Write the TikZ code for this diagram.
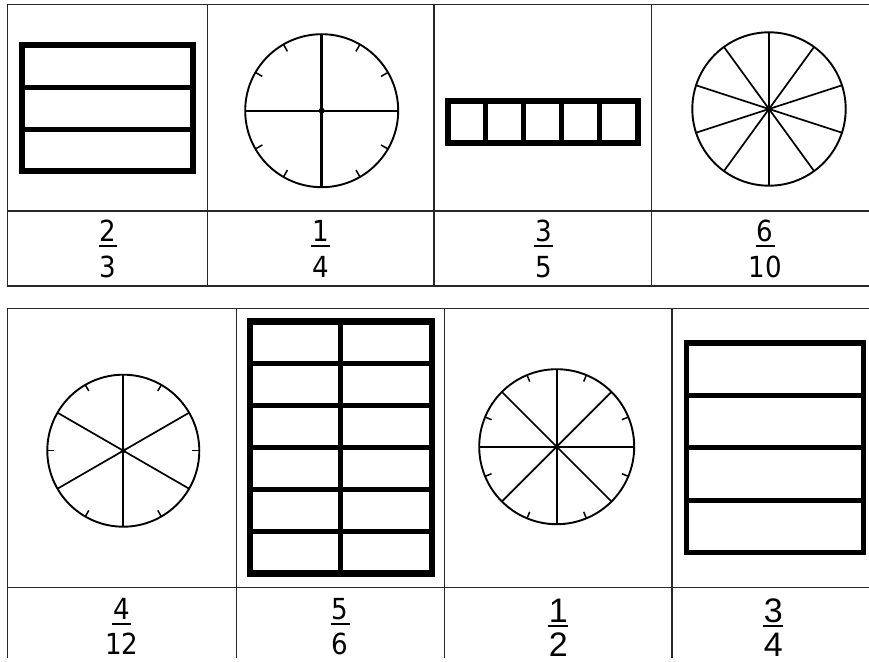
\documentclass[tikz,border=0pt]{standalone}
\usepackage{fontspec}
\newfontfamily\tah{DejaVu Sans Condensed}
\newfontfamily\ari{Liberation Sans}
\begin{document}
\begin{tikzpicture}[x=1pt,y=-1pt,
  grid/.style={line width=1.4pt, draw=black!85},
  frame/.style={line width=6pt, line join=miter},
  divider/.style={line width=5pt},
  rim/.style={line width=1.9pt},
  spoke/.style={line width=1.7pt},
  tickmark/.style={line width=1.5pt},
  digits/.style={inner sep=0pt, anchor=base, text depth=0pt, font=\tah\fontsize{29}{29}\selectfont},
  adigits/.style={inner sep=0pt, anchor=base, text depth=0pt, font=\ari\fontsize{34}{34}\selectfont},
  fbar/.style={line width=2pt}]

\useasboundingbox (0,0) rectangle (869,661);
\fill[white] (0,0) rectangle (869,661);

% ---------- top table ----------
\draw[grid] (869,4.5) -- (7.5,4.5) -- (7.5,286) -- (869,286);
\draw[grid] (7.5,211) -- (869,211);
\foreach \x in {207.7,434,651.7} \draw[grid] (\x,4.5) -- (\x,286);

% 2/3 rectangle
\draw[frame] (22.3,45.3) rectangle (193,171);
\foreach \y in {87.3,129.2} \draw[divider] (22.3,\y) -- (193,\y);

% 1/4 circle
\begin{scope}[shift={(321.7,110.7)}]
  \draw[rim] (0,0) circle[radius=76.5pt];
  \draw[line width=3pt] (0,-76.5) -- (0,76.5);
  \draw[line width=2pt] (-76.5,0) -- (76.5,0);
  \foreach \a in {30,60,120,150,210,240,300,330}
    \draw[tickmark] (\a:76.5) -- (\a:68.5);
  \fill (0,0) circle[radius=3pt];
\end{scope}

% 3/5 strip
\draw[frame] (448,100.7) rectangle (637.7,142.7);
\foreach \x in {485.9,523.8,561.7,599.6} \draw[divider] (\x,100.7) -- (\x,142.7);

% 6/10 circle
\begin{scope}[shift={(769,109)}]
  \draw[rim] (0,0) circle[radius=76.7pt];
  \foreach \a in {90,54,18,-18,-54}
    \draw[spoke] (\a:76.7) -- (\a+180:76.7);
  \fill (0,0) circle[radius=3pt];
\end{scope}

% top fractions
\node[digits] (n1) at (108,241.5) {2};
\draw[fbar] ([xshift=-1pt,yshift=-4.5pt]n1.base west) -- ([xshift=1pt,yshift=-4.5pt]n1.base east);
\node[digits] (d1) at (108,277.5) {3};

\node[digits] (n2) at (320.5,241.5) {1};
\draw[fbar] ([xshift=-1pt,yshift=-4.5pt]n2.base west) -- ([xshift=1pt,yshift=-4.5pt]n2.base east);
\node[digits] (d2) at (320.5,277.5) {4};

\node[digits] (n3) at (543.3,241.5) {3};
\draw[fbar] ([xshift=-1pt,yshift=-4.5pt]n3.base west) -- ([xshift=1pt,yshift=-4.5pt]n3.base east);
\node[digits] (d3) at (543.3,277.5) {5};

\node[digits] (n4) at (765,241.5) {6};
\draw[fbar] ([xshift=-1pt,yshift=-4.5pt]n4.base west) -- ([xshift=1pt,yshift=-4.5pt]n4.base east);
\node[digits] (d4) at (765,277.5) {10};

% ---------- bottom table ----------
\draw[grid] (869,308.3) -- (7.3,308.3) -- (7.3,658);
\draw[grid] (7.3,587.3) -- (869,587.3);
\foreach \x in {236.7,444.3,672} \draw[grid] (\x,308.3) -- (\x,658);

% 4/12 circle
\begin{scope}[shift={(123.3,450.7)}]
  \draw[rim] (0,0) circle[radius=76pt];
  \foreach \a in {90,30,150}
    \draw[spoke] (\a:76) -- (\a+180:76);
  \foreach \a in {0,60,120,180,240,300}
    \draw[tickmark] (\a:76) -- (\a:69);
  \fill (0,0) circle[radius=2.5pt];
\end{scope}

% 5/6 rectangle
\draw[frame,line width=6.5pt] (250,321.5) rectangle (432,573.5);
\draw[divider] (340.8,321.5) -- (340.8,573.5);
\foreach \y in {363.5,405.5,447.5,489.5,531.5} \draw[divider,line width=5.5pt] (250,\y) -- (432,\y);

% 1/2 circle
\begin{scope}[shift={(556.7,446.7)}]
  \draw[rim] (0,0) circle[radius=77.5pt];
  \foreach \a in {0,45,90,135}
    \draw[spoke] (\a:77.5) -- (\a+180:77.5);
  \foreach \a in {22.5,67.5,112.5,157.5,202.5,247.5,292.5,337.5}
    \draw[tickmark] (\a:77.5) -- (\a:70.5);
  \fill (0,0) circle[radius=2.5pt];
\end{scope}

% 3/4 rectangle
\draw[frame,line width=5.5pt] (686.5,343) rectangle (863.5,552.5);
\foreach \y in {395.4,447.8,500.1} \draw[divider] (686.5,\y) -- (863.5,\y);

% bottom fractions
\node[digits] (n5) at (121.7,619.5) {4};
\draw[fbar] ([xshift=-1pt,yshift=-4pt]n5.base west) -- ([xshift=1pt,yshift=-4pt]n5.base east);
\node[digits] (d5) at (121.7,654) {12};

\node[digits] (n6) at (340,619.5) {5};
\draw[fbar] ([xshift=-1pt,yshift=-4pt]n6.base west) -- ([xshift=1pt,yshift=-4pt]n6.base east);
\node[digits] (d6) at (340,654) {6};

\node[adigits] (n7) at (558.3,622) {1};
\draw[fbar] ([xshift=-0.5pt,yshift=-4pt]n7.base west) -- ([xshift=0.5pt,yshift=-4pt]n7.base east);
\node[adigits] (d7) at (558.3,656.5) {2};

\node[adigits] (n8) at (773.3,622) {3};
\draw[fbar] ([xshift=-0.5pt,yshift=-4pt]n8.base west) -- ([xshift=0.5pt,yshift=-4pt]n8.base east);
\node[adigits] (d8) at (773.3,656.5) {4};
\end{tikzpicture}
\end{document}
